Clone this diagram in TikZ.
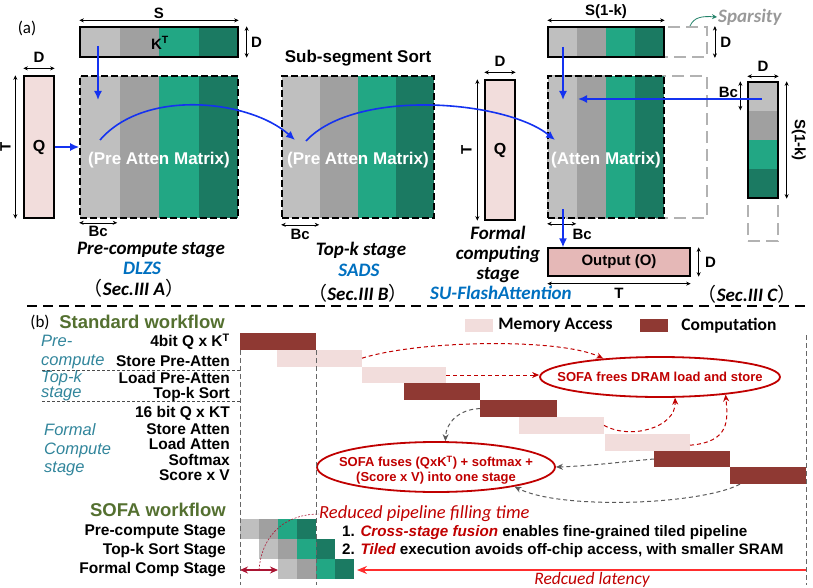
\documentclass[tikz,border=0pt]{standalone}
\usepackage{fontspec}
\setmainfont{Liberation Sans}
\newfontfamily\calfont{Carlito}
\newfontfamily\cjkfont{Noto Sans CJK SC}
\usetikzlibrary{arrows.meta,calc,positioning,shapes.geometric}

\definecolor{bandA}{RGB}{191,191,191}
\definecolor{bandB}{RGB}{160,160,160}
\definecolor{bandC}{RGB}{34,167,132}
\definecolor{bandD}{RGB}{27,122,98}
\definecolor{qpink}{RGB}{242,221,220}
\definecolor{opink}{RGB}{229,184,183}
\definecolor{memcol}{RGB}{242,221,220}
\definecolor{compcol}{RGB}{143,57,51}
\definecolor{flowblue}{RGB}{20,50,240}
\definecolor{secblue}{RGB}{0,112,192}
\definecolor{wfgreen}{RGB}{84,112,48}
\definecolor{stagecol}{RGB}{49,133,155}
\definecolor{sofared}{RGB}{192,0,0}
\definecolor{fillred}{RGB}{170,20,50}
\definecolor{latred}{RGB}{255,45,45}
\definecolor{sparteal}{RGB}{35,130,105}

\newcommand{\fwl}{{\cjkfont\mdseries\upshape （}}
\newcommand{\fwr}{{\cjkfont\mdseries\upshape ）}}

\begin{document}
\begin{tikzpicture}[x=1pt, y=-1pt,
    solidbox/.style ={rectangle, draw=black, line width=1.3pt, inner sep=0},
    dashbox/.style  ={rectangle, draw=black, line width=1.6pt, dash pattern=on 7pt off 3pt, inner sep=0},
    ghostbox/.style ={rectangle, draw=black!30, line width=1.8pt, dash pattern=on 12pt off 6pt, inner sep=0},
    dim/.style      ={{Stealth[length=4.5pt,width=4pt]}-{Stealth[length=4.5pt,width=4pt]}, line width=0.6pt},
    dimlbl/.style   ={font=\fontsize{15}{16}\selectfont\bfseries, inner sep=0},
    flow/.style     ={-{Latex[length=9pt,width=8pt]}, draw=flowblue, line width=1.6pt},
    matlbl/.style   ={text=white, font=\fontsize{17}{18}\selectfont\bfseries, inner sep=0},
    stage/.style    ={font=\calfont\fontsize{19}{20}\selectfont\bfseries\itshape, inner sep=0},
    wf/.style       ={text=wfgreen, font=\fontsize{18.5}{20}\selectfont\bfseries, inner sep=0},
    legtxt/.style   ={font=\calfont\fontsize{17.5}{18}\selectfont\bfseries, inner sep=0},
    rowlbl/.style   ={font=\fontsize{15.5}{16}\selectfont\bfseries, inner sep=0},
    stagelbl/.style ={text=stagecol, align=left, inner sep=0},
    bar/.style      ={rectangle, anchor=north west, minimum height=16.8, inner sep=0, outer sep=0},
    rowsep/.style   ={draw=black!70, line width=0.7pt, dash pattern=on 3pt off 2pt},
    vline/.style    ={draw=black!60, line width=1pt, dash pattern=on 5pt off 3pt},
    bubble/.style   ={ellipse, draw=sofared, line width=1.8pt, inner sep=0},
    elltxt/.style   ={text=sofared, align=center, font=\fontsize{13}{15}\selectfont\bfseries, inner sep=0},
    redarr/.style   ={-{Stealth[length=7pt,width=6pt]}, draw=sofared, line width=1pt, dash pattern=on 4pt off 3pt},
    grayarr/.style  ={-{Stealth[length=7pt,width=6pt]}, draw=black!65, line width=1pt, dash pattern=on 4pt off 3pt},
    note/.style     ={text=sofared, font=\calfont\fontsize{17.5}{18}\selectfont\itshape, inner sep=0},
    point/.style    ={font=\fontsize{15.2}{16}\selectfont\bfseries, inner sep=0}]

  \useasboundingbox (0,0) rectangle (813,588);

  % ---------------- (a) ----------------
  \node[font=\calfont\fontsize{17}{18}\selectfont] (lbla) at (27,28) {(a)};

  \node[ghostbox, minimum width=159, minimum height=30]  (ktghost)  at (627.5,42)  {};
  \node[ghostbox, minimum width=159, minimum height=142] (attghost) at (627.5,147) {};
  \node[ghostbox, minimum width=30,  minimum height=159] (vghost)   at (763,161.5) {};

  \foreach \c [count=\i from 0] in {bandA,bandB,bandC,bandD} {
    \fill[\c] (80+39.5*\i, 27) rectangle ++(39.5, 30);
    \fill[\c] (80+39.5*\i, 76) rectangle ++(39.5, 142);
    \fill[\c] (282+38*\i, 76)  rectangle ++(38, 142);
    \fill[\c] (548+29*\i, 27)  rectangle ++(29, 30);
    \fill[\c] (548+29*\i, 76)  rectangle ++(29, 142);
    \fill[\c] (748, 82+29*\i)  rectangle ++(30, 29);
    \foreach \r in {0,1,2}
      \fill[\c] (240+19*\r+19*\i, 519+20*\r) rectangle ++(19, 20);
  }

  \node[solidbox, minimum width=158, minimum height=30] (kt1) at (159,42) {};
  \node[dimlbl] (kt1lbl) at (160,43) {K\textsuperscript{T}};
  \node[dashbox, minimum width=158, minimum height=142] (pre1) at (159,147) {};
  \node[matlbl] (pre1lbl) at (159,160) {(Pre Atten Matrix)};
  \node[solidbox, fill=qpink, minimum width=30, minimum height=142, font=\fontsize{16}{16}\selectfont\bfseries] (q1) at (39,147) {Q};

  \node[dashbox, minimum width=152, minimum height=142] (pre2) at (358,147) {};
  \node[matlbl] (pre2lbl) at (358,160) {(Pre Atten Matrix)};
  \node[font=\fontsize{17}{18}\selectfont\bfseries, inner sep=0] (sss) at (358,58) {Sub-segment Sort};

  \node[solidbox, fill=qpink, minimum width=30, minimum height=140, font=\fontsize{16}{16}\selectfont\bfseries] (q2) at (500,150) {Q};

  \node[solidbox, minimum width=116, minimum height=30] (kt3) at (606,42) {};
  \node[dashbox, minimum width=116, minimum height=142] (att) at (606,147) {};
  \node[matlbl] (attlbl) at (606,160) {(Atten Matrix)};
  \node[solidbox, minimum width=30, minimum height=116] (vcol) at (763,140) {};
  \node[solidbox, fill=opink, minimum width=142, minimum height=28, font=\fontsize{15}{16}\selectfont\bfseries] (out) at (619,262) {Output (O)};

  % dimensions
  \draw[dim] ($(kt1.north west)+(0,-6)$) -- ($(kt1.north east)+(0,-6)$);
  \node[dimlbl, anchor=south] (dims) at (159,19) {S};
  \draw[dim] ($(kt1.north east)+(8,0)$) -- ($(kt1.south east)+(8,0)$);
  \node[dimlbl] (dimd1) at ($(kt1.east)+(18,0)$) {D};
  \draw[dim] ($(q1.north west)+(0,-7)$) -- ($(q1.north east)+(0,-7)$);
  \node[dimlbl] (dimd2) at ($(q1.north)+(0,-18)$) {D};
  \draw[dim] ($(q1.north west)+(-8,0)$) -- ($(q1.south west)+(-8,0)$);
  \node[dimlbl, rotate=90] (dimt1) at ($(q1.west)+(-18,0)$) {T};
  \draw[dim] ($(pre1.south west)+(0,4)$) -- ++(38,0);
  \node[dimlbl] (dimbc1) at ($(pre1.south west)+(19,13)$) {Bc};
  \draw[dim] ($(pre2.south west)+(0,6)$) -- ++(38,0);
  \node[dimlbl] (dimbc2) at ($(pre2.south west)+(19,16)$) {Bc};
  \draw[dim] ($(q2.north west)+(0,-7)$) -- ($(q2.north east)+(0,-7)$);
  \node[dimlbl] (dimd3) at ($(q2.north)+(0,-18)$) {D};
  \draw[dim] ($(q2.north west)+(-7,0)$) -- ($(q2.south west)+(-7,0)$);
  \node[dimlbl, rotate=90] (dimt2) at ($(q2.west)+(-18,0)$) {T};
  \draw[dim] ($(kt3.north west)+(0,-6)$) -- ($(kt3.north east)+(0,-6)$);
  \node[dimlbl, anchor=south] (dimsk1) at (606,19) {S(1-k)};
  \draw[dim] ($(ktghost.north east)+(7,0)$) -- ($(ktghost.south east)+(7,0)$);
  \node[dimlbl] (dimd4) at ($(ktghost.east)+(18,0)$) {D};
  \draw[dim] ($(att.south west)+(0,5)$) -- ++(29,0);
  \node[dimlbl] (dimbc3) at ($(att.south west)+(35,16)$) {Bc};
  \draw[dim] ($(vcol.north west)+(0,-5)$) -- ($(vcol.north east)+(0,-5)$);
  \node[dimlbl] (dimd5) at ($(vcol.north)+(0,-15)$) {D};
  \draw[dim] ($(vcol.north west)+(-7,0)$) -- ++(0,29);
  \node[dimlbl] (dimbc4) at ($(vcol.north west)+(-19,11)$) {Bc};
  \draw[dim] ($(vcol.north east)+(8,0)$) -- ($(vcol.south east)+(8,0)$);
  \node[dimlbl, rotate=-90] (dimsk2) at ($(vcol.east)+(20,0)$) {S(1-k)};
  \draw[dim] ($(out.north east)+(8,0)$) -- ($(out.south east)+(8,0)$);
  \node[dimlbl] (dimd6) at ($(out.east)+(20,0)$) {D};
  \draw[dim] ($(out.south west)+(0,7)$) -- ($(out.south east)+(0,7)$);
  \node[dimlbl] (dimt3) at ($(out.south)+(0,17)$) {T};

  % data flow
  \coordinate (kt1src) at (98,46);
  \coordinate (pre1dst) at (98,100);
  \draw[flow] (kt1src) -- (pre1dst);
  \draw[flow] (q1) -- (pre1);
  \coordinate (pre1src) at (100,140);
  \coordinate (pre2dst) at (295,140);
  \draw[flow] (pre1src) .. controls (145,88) and (250,100) .. (pre2dst);
  \coordinate (pre2src) at (306,141);
  \coordinate (attdst) at (555,140);
  \draw[flow] (pre2src) .. controls (355,88) and (505,100) .. (attdst);
  \coordinate (kt3src) at (563,47);
  \coordinate (attdst2) at (563,100);
  \draw[flow] (kt3src) -- (attdst2);
  \coordinate (vsrc) at (762,99);
  \coordinate (attdst3) at (578,99);
  \draw[flow] (vsrc) -- (attdst3);
  \coordinate (attsrc) at (563,209);
  \draw[flow] (attsrc) -- (attsrc |- out.north);

  \node[font=\calfont\fontsize{19}{20}\selectfont\bfseries\itshape, text=black!40, anchor=west, inner sep=1] (spar) at (717,17) {Sparsity};
  \coordinate (sparsrc) at (690,26);
  \draw[-{Stealth[length=5pt,width=5pt]}, draw=sparteal, line width=0.8pt] (sparsrc) .. controls (694,17) and (702,16) .. (spar.west);

  \node[stage] (pcst) at (151,250) {Pre-compute stage};
  \node[stage, text=secblue] (dlzs) at (142,268) {DLZS};
  \node[stage] (seca) at (134,288) {\fwl Sec.III A\fwr};
  \node[stage] (tkst) at (361,250) {Top-k stage};
  \node[stage, text=secblue] (sads) at (359,270) {SADS};
  \node[stage] (secb) at (358,293) {\fwl Sec.III B\fwr};
  \node[stage, align=center] (fcst) at (498,254) {Formal\\computing\\stage};
  \node[stage, text=secblue] (sufa) at (501,293) {SU-FlashAttention};
  \node[stage] (secc) at (747,294) {\fwl Sec.III C\fwr};

  \coordinate (sepL) at (27,306);
  \coordinate (sepR) at (806,306);
  \draw[line width=1.8pt, dash pattern=on 10pt off 6pt] (sepL) -- (sepR);

  % ---------------- (b) ----------------
  \node[font=\calfont\fontsize{17}{18}\selectfont] (lblb) at (40,322) {(b)};
  \node[wf] (stdwf) at (142,322) {Standard workflow};
  \node[rectangle, fill=memcol, minimum width=28, minimum height=13, inner sep=0] (legmem) at (479,325.5) {};
  \node[legtxt, right=5pt of legmem] (legmemtxt) {Memory Access};
  \node[rectangle, fill=compcol, minimum width=28, minimum height=13, inner sep=0] (legcomp) at (654,325.5) {};
  \node[legtxt, right=13pt of legcomp] (legcomptxt) {Computation};

  \foreach \t/\yy [count=\k] in {{4bit Q x K\textsuperscript{T}}/342, {Store Pre-Atten}/361, {Load Pre-Atten}/378,
      {Top-k Sort}/394, {16 bit Q x KT}/413, {Store Atten}/429, {Load Atten}/444, {Softmax}/460, {Score x V}/475}
    \node[rowlbl, anchor=east] (row\k) at (230,\yy) {\t};

  \node[stagelbl, anchor=west, font=\fontsize{16.5}{19}\selectfont\itshape] (stpre) at (41,352) {Pre-\\compute};
  \node[stagelbl, anchor=west, font=\fontsize{16.5}{15}\selectfont\itshape] (sttop) at (41,386) {Top-k\\stage};
  \node[stagelbl, anchor=west, font=\fontsize{16.5}{18.5}\selectfont\itshape] (stfor) at (44,450) {Formal\\Compute\\stage};

  \foreach \n/\xx/\ww/\c [count=\r from 0] in {b1/240/76/compcol, b2/277/85/memcol, b3/362/84/memcol,
      b4/404/76/compcol, b5/480/77/compcol, b6/519/85/memcol, b7/605/85/memcol, b8/654/76/compcol, b9/730/76/compcol}
    \node[bar, fill=\c, minimum width=\ww] (\n) at (\xx, 333+16.8*\r) {};

  \coordinate (sepA) at (42,370);
  \coordinate (sepB) at (42,401);
  \draw[rowsep] (sepA) -- (sepA -| b1.west);
  \draw[rowsep] (sepB) -- (sepB -| b1.west);

  \node[bubble, minimum width=240, minimum height=40] (ell1) at (660,377) {};
  \node[elltxt] (ell1txt) at (ell1) {SOFA frees DRAM load and store};
  \node[bubble, minimum width=238, minimum height=50] (ell2) at (436,467) {};
  \node[elltxt] (ell2txt) at (436,470.5) {SOFA fuses (QxK\textsuperscript{T}) + softmax +\\(Score x V) into one stage};

  \draw[redarr] (b2.east) .. controls (420,340) and (560,338) .. (ell1.162);
  \draw[redarr] (b3.east) -- (b3.east -| ell1.west);
  \draw[redarr] (b6.east) .. controls (630,440) and (676,428) .. (ell1.306);
  \draw[redarr] ($(b7.east)+(0,3)$) .. controls (730,442) and (728,420) .. (ell1.345.5);
  \draw[grayarr] (b5.west) .. controls (460,409) and (446,422) .. (ell2.70);
  \draw[grayarr] (b8.west) .. controls (620,462) and (590,466) .. (ell2.east);
  \draw[grayarr] ($(b9.south west)+(10,0)$) .. controls (700,505) and (560,510) .. (ell2.346.7);

  % SOFA workflow
  \node[wf, anchor=east] (sofawf) at (226,510) {SOFA workflow};
  \node[rowlbl, anchor=east] (sw1) at (226,532) {Pre-compute Stage};
  \node[rowlbl, anchor=east] (sw2) at (226,551) {Top-k Sort Stage};
  \node[rowlbl, anchor=east] (sw3) at (226,570) {Formal Comp Stage};

  \coordinate (fillL) at (240,570);
  \coordinate (fillR) at (278,570);
  \coordinate (fillM) at (259,570);
  \draw[{Stealth[length=8pt,width=7pt]}-{Stealth[length=8pt,width=7pt]}, draw=fillred, line width=1.2pt] (fillL) -- (fillR);
  \node[note, anchor=west, font=\calfont\fontsize{18.5}{19}\selectfont\itshape] (rpft) at (319,514) {Reduced pipeline filling time};
  \draw[draw=fillred, line width=0.6pt, dash pattern=on 2pt off 1.5pt] (fillM) .. controls (262,532) and (288,514) .. (rpft.west);

  \node[point, anchor=west] (pt1) at (342,533) {1. \textcolor{sofared}{\itshape Cross-stage fusion} enables fine-grained tiled pipeline};
  \node[point, anchor=west] (pt2) at (342,551) {2. \textcolor{sofared}{\itshape Tiled} execution avoids off-chip access, with smaller SRAM};

  \coordinate (latR) at (806,570);
  \coordinate (latL) at (357,570);
  \draw[-{Stealth[length=10pt,width=8pt]}, draw=latred, line width=1.2pt] (latR) -- (latL);
  \node[note] (lat) at (592,580) {Redcued latency};

  % time grid
  \draw[vline] (b1.south west) -- ++(0,235);
  \draw[vline] (b1.south east) -- ++(0,235);
  \coordinate (rtop) at (806,335);
  \draw[vline] (rtop) -- ++(0,250);
\end{tikzpicture}
\end{document}
